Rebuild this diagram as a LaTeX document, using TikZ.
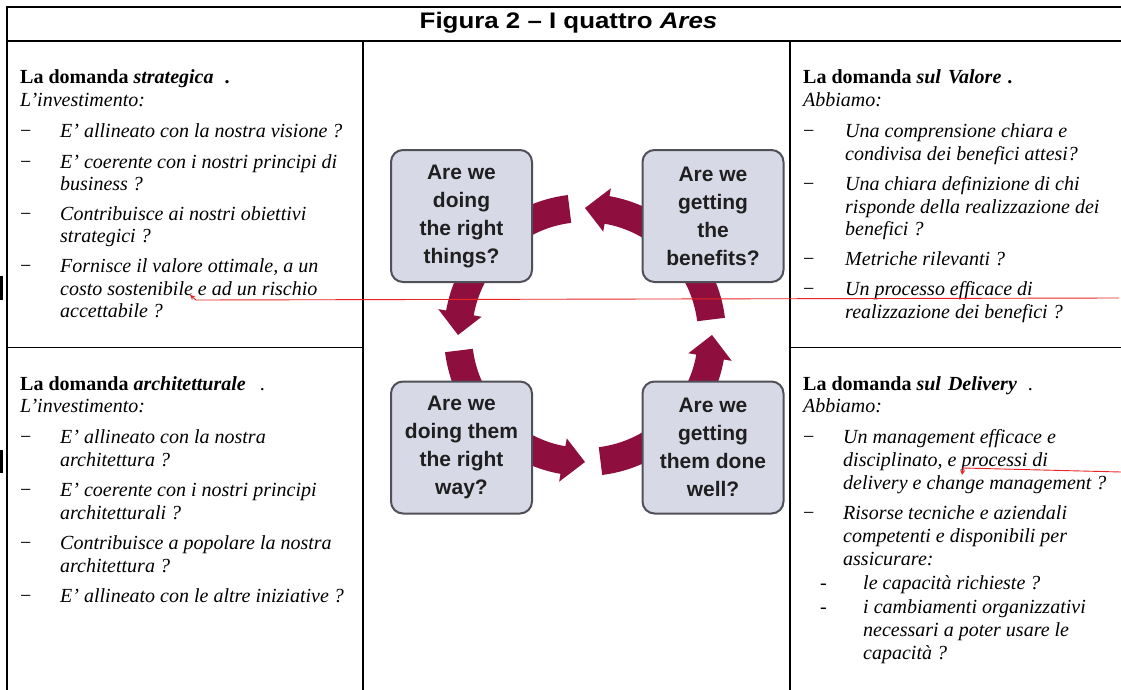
\documentclass[tikz,border=0pt]{standalone}
\usepackage{fontspec}
\usepackage{graphicx}
\setmainfont{Liberation Serif}
\newfontfamily\arialfont{Liberation Sans}
\usetikzlibrary{arrows.meta}

\definecolor{ringred}{RGB}{142,14,62}
\definecolor{boxfill}{RGB}{216,217,231}
\definecolor{boxline}{RGB}{80,80,88}
\definecolor{notered}{RGB}{235,35,35}

% ring arrow: body from #1 to head base #2, tip at #3 (angles, y downwards)
\newcommand\ringarrow[3]{%
  \fill[ringred] plot[domain=#1:#2,samples=20] ({585+141*cos(\x)},{335+141*sin(\x)})
    -- ({585+149*cos(#2)},{335+149*sin(#2)})
    -- ({585+127*cos(#3)},{335+127*sin(#3)})
    -- ({585+105*cos(#2)},{335+105*sin(#2)})
    -- plot[domain=#2:#1,samples=20] ({585+113*cos(\x)},{335+113*sin(\x)}) -- cycle;}
% ring piece without head
\newcommand\ringstub[2]{%
  \fill[ringred] plot[domain=#1:#2,samples=20] ({585+141*cos(\x)},{335+141*sin(\x)})
    -- plot[domain=#2:#1,samples=20] ({585+113*cos(\x)},{335+113*sin(\x)}) -- cycle;}
% one line of text, left aligned on its baseline
\newcommand\txtline[4]{\node[txt] (#1) at (#2,#3) {#4};}

\tikzset{
  txt/.style={anchor=base west, inner sep=0pt, font=\fontsize{20}{23}\selectfont},
  qbox/.style={draw=boxline, line width=2pt, fill=boxfill, rounded corners=12pt,
    minimum width=141pt, minimum height=132pt, align=center, inner sep=0pt,
    text=black!88, font=\arialfont\bfseries\fontsize{21}{28}\selectfont},
  rule/.style={line width=1.3pt},
  note/.style={draw=notered, line width=0.9pt}
}

\begin{document}
\begin{tikzpicture}[x=1pt,y=-1pt]
\useasboundingbox (0,0) rectangle (1121,690);
\fill[white] (0,0) rectangle (1121,690);

% frame of the table
\draw[line width=2pt] (7,7) -- (1121,7);
\draw[line width=2pt] (7,41) -- (1121,41);
\draw[rule] (7,6) -- (7,690);
\draw[line width=1.5pt] (363,41) -- (363,690);
\draw[rule] (790,41) -- (790,690);
\draw[line width=1pt] (7,347) -- (363,347);
\draw[line width=1pt] (790,347) -- (1121,347);
\fill (0,276) rectangle (2.7,300);
\fill (0,450) rectangle (2.7,473);

% title
\node[font=\arialfont\bfseries\fontsize{22.5}{26}\selectfont, inner sep=0pt, anchor=base] (title) at (568.5,29)
  {\scalebox{1.15}[1]{Figura 2 – I quattro \textit{Ares}}};

% ---- top left
\txtline{sh}{20}{84}{\textbf{La domanda \textit{strategica}}\hspace{11pt}\textbf{.}}
\txtline{si}{20}{107}{\textit{L’investimento:}}
\foreach \y/\n in {138/1,168/2,220/3,272.5/4}{\node[txt] (sd\n) at (20,\y) {−};}
\txtline{s1}{60}{138}{\textit{E’ allineato con la nostra visione ?}}
\txtline{s2a}{60}{168}{\textit{E’ coerente con i nostri principi di}}
\txtline{s2b}{60}{190.5}{\textit{business ?}}
\txtline{s3a}{60}{220}{\textit{Contribuisce ai nostri obiettivi}}
\txtline{s3b}{60}{242.5}{\textit{strategici ?}}
\txtline{s4a}{60}{272.5}{\textit{Fornisce il valore ottimale, a un}}
\txtline{s4b}{60}{295}{\textit{costo sostenibile e ad un rischio}}
\txtline{s4c}{60}{317.5}{\textit{accettabile ?}}

% ---- top right
\txtline{vh}{803}{84}{\textbf{La domanda \textit{sul}}\hspace{7pt}\textbf{\textit{Valore}}\hspace{6pt}\textbf{.}}
\txtline{vi}{803}{107}{\textit{Abbiamo:}}
\foreach \y/\n in {138/1,190.5/2,265.5/3,295.5/4}{\node[txt] (vd\n) at (803,\y) {−};}
\txtline{v1a}{845}{138}{\textit{Una comprensione chiara e}}
\txtline{v1b}{845}{160.5}{\textit{condivisa dei benefici attesi?}}
\txtline{v2a}{845}{190.5}{\textit{Una chiara definizione di chi}}
\txtline{v2b}{845}{213}{\textit{risponde della realizzazione dei}}
\txtline{v2c}{845}{235.5}{\textit{benefici ?}}
\txtline{v3}{845}{265.5}{\textit{Metriche rilevanti ?}}
\txtline{v4a}{845}{295.5}{\textit{Un processo efficace di}}
\txtline{v4b}{845}{318}{\textit{realizzazione dei benefici ?}}

% ---- bottom left
\txtline{ah}{20}{390}{\textbf{La domanda \textit{architetturale}}\hspace{14pt}.}
\txtline{ai}{20}{412}{\textit{L’investimento:}}
\foreach \y/\n in {443/1,496/2,549/3,602/4}{\node[txt] (ad\n) at (20,\y) {−};}
\txtline{a1a}{60}{443}{\textit{E’ allineato con la nostra}}
\txtline{a1b}{60}{466}{\textit{architettura ?}}
\txtline{a2a}{60}{496}{\textit{E’ coerente con i nostri principi}}
\txtline{a2b}{60}{519}{\textit{architetturali ?}}
\txtline{a3a}{60}{549}{\textit{Contribuisce a popolare la nostra}}
\txtline{a3b}{60}{572}{\textit{architettura ?}}
\txtline{a4}{60}{602}{\textit{E’ allineato con le altre iniziative ?}}

% ---- bottom right
\txtline{dh}{803}{390}{\textbf{La domanda \textit{sul}}\hspace{7pt}\textbf{\textit{Delivery}}\hspace{11pt}.}
\txtline{di}{803}{412}{\textit{Abbiamo:}}
\foreach \y/\n in {443/1,519/2}{\node[txt] (dd\n) at (803,\y) {−};}
\txtline{d1a}{843}{443}{\textit{Un management efficace e}}
\txtline{d1b}{843}{466}{\textit{disciplinato, e processi di}}
\txtline{d1c}{843}{489}{\textit{delivery e change management ?}}
\txtline{d2a}{843}{519}{\textit{Risorse tecniche e aziendali}}
\txtline{d2b}{843}{542}{\textit{competenti e disponibili per}}
\txtline{d2c}{843}{565}{\textit{assicurare:}}
\txtline{dsd1}{820}{589}{-}
\txtline{dsd2}{820}{613}{-}
\txtline{ds1}{863}{589}{\textit{le capacità richieste ?}}
\txtline{ds2a}{863}{613}{\textit{i cambiamenti organizzativi}}
\txtline{ds2b}{863}{636}{\textit{necessari a poter usare le}}
\txtline{ds2c}{863}{659}{\textit{capacità ?}}

% ---- cycle of the four questions
\ringarrow{38}{10}{0}
\ringstub{-7}{-40}
\ringarrow{308}{280}{270}
\ringstub{263}{230}
\ringarrow{218}{190}{180}
\ringstub{173}{140}
\ringarrow{128}{100}{90}
\ringstub{83}{50}

\node[qbox] (q1) at (461.5,216) {Are we\\doing\\the right\\things?};
\node[qbox] (q2) at (713,216) {Are we\\getting\\the\\benefits?};
\node[qbox] (q3) at (461.5,447.5) {Are we\\doing them\\the right\\way?};
\node[qbox] (q4) at (713,447.5) {Are we\\getting\\them done\\well?};

% ---- red revision marks
\coordinate (m1s) at (1119,298);
\coordinate (m1k) at (196,300);
\coordinate (m1e) at (190,295);
\draw[note,-{Stealth[length=5pt,width=5pt]}] (m1s) -- (m1k) -- (m1e);
\coordinate (m2s) at (1121,472);
\coordinate (m2k) at (963,468);
\coordinate (m2e) at (962,475);
\draw[note,-{Stealth[length=5pt,width=5pt]}] (m2s) -- (m2k) -- (m2e);
\end{tikzpicture}
\end{document}
